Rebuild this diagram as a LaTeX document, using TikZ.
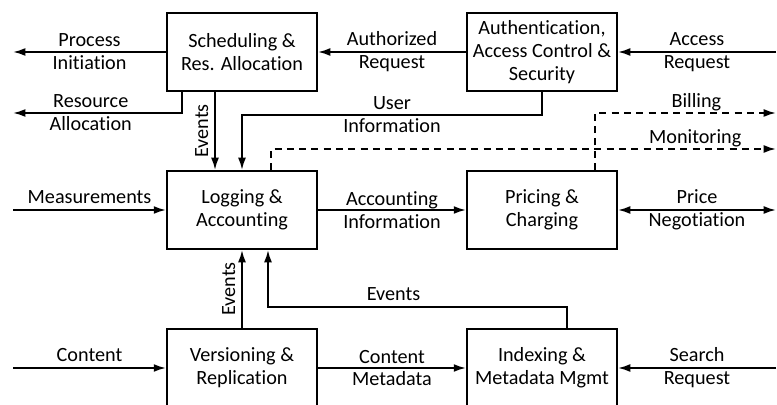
\documentclass[tikz,border=0pt]{standalone}
\usepackage{fontspec}
\setmainfont{Carlito}[Ligatures=NoCommon]
\usetikzlibrary{arrows.meta}

\begin{document}
\begin{tikzpicture}[x=0.02cm, y=-0.02cm, line width=1.1pt,
  box/.style={draw, minimum width=3cm, minimum height=1.56cm, align=center, inner sep=2pt},
  arr/.style={-{Latex[length=7pt,width=4.5pt]}},
  lbl/.style={align=center},
  dsh/.style={dash pattern=on 4pt off 3pt}]
\useasboundingbox (0,0) rectangle (777,405);
\begin{scope}[font=\fontsize{11.5}{13}\selectfont]

% blocks
\node[box] (sched) at (242,52) {Scheduling \&\\Res. Allocation};
\node[box] (auth) at (542,52) {Authentication,\\Access Control \&\\Security};
\node[box] (log) at (242,210) {Logging \&\\Accounting};
\node[box] (price) at (542,210) {Pricing \&\\Charging};
\node[box] (vers) at (242,368) {Versioning \&\\Replication};
\node[box] (index) at (542,368) {Indexing \&\\Metadata Mgmt};

% free ends
\coordinate (procend) at (13,52);
\coordinate (resend) at (13,113);
\coordinate (accstart) at (776,52);
\coordinate (billend) at (776,113);
\coordinate (monend) at (776,149);
\coordinate (measstart) at (13,210);
\coordinate (priceend) at (776,210);
\coordinate (contstart) at (13,368);
\coordinate (searchstart) at (776,368);

\draw[arr] (sched.west) -- node[lbl] {Process\\Initiation} (procend);
\draw[arr] ([xshift=-1.2cm]sched.south) |- node[lbl, pos=0.77] {Resource\\Allocation} (resend);
\draw[arr] ([xshift=-0.54cm]sched.south) -- node[rotate=90, above] {Events} ([xshift=-0.54cm]log.north);
\draw[arr] (auth.west) -- node[lbl] {Authorized\\Request} (sched.east);
\draw[arr] (accstart) -- node[lbl] {Access\\Request} (auth.east);
\draw[arr] (auth.south) -- ++(0,23) -| node[lbl, pos=0.25] {User\\Information} (log.north);

\draw[arr, dsh] ([xshift=1.06cm]price.north) |- node[pos=0.78, above=-2.5pt] {Billing} (billend);
\draw[arr, dsh] ([xshift=0.58cm]log.north) |- node[pos=0.92, above=-2.5pt] {Monitoring} (monend);

\draw[arr] (measstart) -- node[above] {Measurements} (log.west);
\draw[arr] (log.east) -- node[lbl] {Accounting\\Information} (price.west);
\draw[{Latex[length=7pt,width=4.5pt]}-{Latex[length=7pt,width=4.5pt]}] (price.east) -- node[lbl] {Price\\Negotiation} (priceend);

\draw[arr] (vers.north) -- node[rotate=90, above] {Events} (log.south);
\draw[arr] ([xshift=0.5cm]index.north) -- ++(0,-21) -| node[pos=0.29, above] {Events} ([xshift=0.52cm]log.south);
\draw[arr] (contstart) -- node[above] {Content} (vers.west);
\draw[arr] (vers.east) -- node[lbl] {Content\\Metadata} (index.west);
\draw[arr] (searchstart) -- node[lbl] {Search\\Request} (index.east);

\end{scope}
\end{tikzpicture}
\end{document}
